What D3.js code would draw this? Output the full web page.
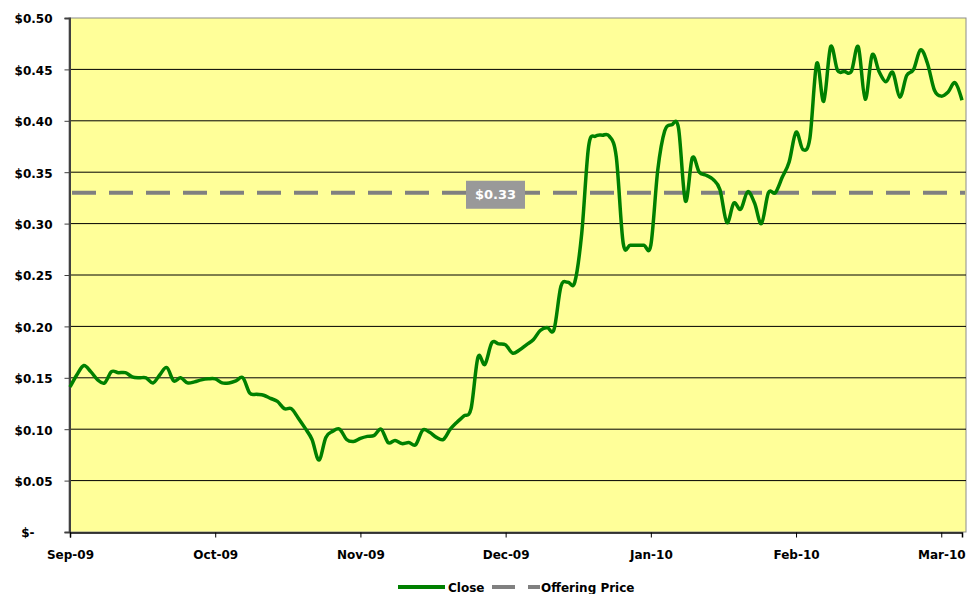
<!DOCTYPE html>
<html>
<head>
<meta charset="utf-8">
<script src="https://cdn.jsdelivr.net/npm/d3@7"></script>
<style>
  body { margin: 0; background: #fff; }
  text { font-family: "DejaVu Sans", Verdana, sans-serif; font-weight: bold; font-size: 12px; fill: #000; }
</style>
</head>
<body>
<figure id="chart" style="margin:0"></figure>
<script>
// daily close (one value per trading day)
const closeValues = [
  0.141, 0.153, 0.162, 0.156, 0.148, 0.145, 0.156, 0.155, 0.155, 0.151,
  0.150, 0.150, 0.145, 0.153, 0.160, 0.147, 0.150, 0.145, 0.146, 0.148,
  0.149, 0.149, 0.145, 0.145, 0.147, 0.150, 0.135, 0.134, 0.133, 0.130,
  0.127, 0.120, 0.120, 0.111, 0.101, 0.090, 0.070, 0.092, 0.098, 0.100,
  0.090, 0.088, 0.091, 0.093, 0.094, 0.100, 0.087, 0.089, 0.086, 0.087,
  0.085, 0.099, 0.097, 0.092, 0.090, 0.100, 0.107, 0.113, 0.120, 0.170,
  0.163, 0.184, 0.183, 0.182, 0.174, 0.177, 0.182, 0.187, 0.196, 0.199,
  0.197, 0.239, 0.243, 0.243, 0.290, 0.375, 0.385, 0.386, 0.385, 0.365,
  0.281, 0.279, 0.279, 0.279, 0.279, 0.352, 0.390, 0.396, 0.393, 0.322,
  0.364, 0.350, 0.347, 0.343, 0.333, 0.301, 0.320, 0.314, 0.331, 0.320,
  0.300, 0.330, 0.330, 0.345, 0.360, 0.389, 0.372, 0.383, 0.456, 0.419,
  0.472, 0.449, 0.448, 0.448, 0.472, 0.421, 0.464, 0.448, 0.438, 0.447,
  0.423, 0.444, 0.450, 0.469, 0.456, 0.430, 0.424, 0.428, 0.437, 0.420
];
const tickLabels = ["Sep-09", "Oct-09", "Nov-09", "Dec-09", "Jan-10", "Feb-10", "Mar-10"];
const tickIndex = [0, 21, 42, 63, 84, 105, 126];
const yTicks = [0, 0.05, 0.10, 0.15, 0.20, 0.25, 0.30, 0.35, 0.40, 0.45, 0.50];
const offeringPrice = 0.33;
const seriesNames = ["Close", "Offering Price"];

const width = 969, height = 594;
const plot = { left: 69, right: 966, top: 18, bottom: 532 };

const svg = d3.select("#chart").append("svg")
  .attr("width", width)
  .attr("height", height);

const x = d3.scaleLinear()
  .domain([0, closeValues.length - 1])
  .range([70, 962]);

const y = d3.scaleLinear()
  .domain([0, 0.5])
  .range([plot.bottom, plot.top]);

// plot area
svg.append("rect")
  .attr("x", plot.left).attr("y", plot.top)
  .attr("width", plot.right - plot.left).attr("height", plot.bottom - plot.top)
  .attr("fill", "#ffff99")
  .attr("stroke", "#8c8c8c")
  .attr("stroke-width", 1);

// gridlines
svg.append("g")
  .selectAll("line")
  .data(yTicks.filter(d => d > 0 && d < 0.5))
  .enter()
  .append("line")
  .attr("x1", plot.left).attr("x2", plot.right)
  .attr("y1", d => y(d)).attr("y2", d => y(d))
  .attr("stroke", "#000")
  .attr("stroke-width", 1);

// y axis
const yAxis = svg.append("g")
  .attr("transform", "translate(" + (plot.left + 0.5) + ",0)")
  .call(d3.axisLeft(y).tickValues(yTicks).tickSize(5).tickPadding(12)
    .tickFormat(d => d === 0 ? "$-" : "$" + d3.format(".2f")(d)));
yAxis.select(".domain").attr("stroke", "#404040").attr("stroke-width", 2);
yAxis.selectAll(".tick line").attr("stroke", "#404040");
yAxis.selectAll(".tick text")
  .attr("dy", "0.4em")
  .attr("x", d => d === 0 ? -35 : -17);

// x axis
const xAxis = svg.append("g")
  .attr("transform", "translate(0," + (plot.bottom + 0.5) + ")")
  .call(d3.axisBottom(x).tickValues(tickIndex).tickSize(5).tickPadding(10)
    .tickFormat((d, i) => tickLabels[i]));
xAxis.select(".domain").attr("stroke", "#000").attr("stroke-width", 1.5);
xAxis.selectAll(".tick line").attr("stroke", "#000");
xAxis.selectAll(".tick text").attr("dy", "0.95em");

// offering price
svg.append("line")
  .attr("x1", 72).attr("x2", plot.right - 1)
  .attr("y1", y(offeringPrice)).attr("y2", y(offeringPrice))
  .attr("stroke", "#808080")
  .attr("stroke-width", 4)
  .attr("stroke-dasharray", "24,13");

// close line
const line = d3.line()
  .x((d, i) => x(i))
  .y(d => y(d))
  .curve(d3.curveCatmullRom.alpha(0));

svg.append("path")
  .datum(closeValues)
  .attr("d", line)
  .attr("fill", "none")
  .attr("stroke", "#008000")
  .attr("stroke-width", 3.5)
  .attr("stroke-linejoin", "round");

// price label
svg.append("rect")
  .attr("x", 466).attr("y", y(offeringPrice) - 12)
  .attr("width", 59).attr("height", 28)
  .attr("fill", "#999999");
svg.append("text")
  .attr("x", 495.5).attr("y", y(offeringPrice) + 2)
  .attr("dy", "0.35em")
  .attr("text-anchor", "middle")
  .style("fill", "#fff")
  .style("font-size", "13px")
  .text("$" + offeringPrice.toFixed(2));

// legend
const legend = svg.append("g");
legend.append("line")
  .attr("x1", 398).attr("x2", 445)
  .attr("y1", 587).attr("y2", 587)
  .attr("stroke", "#008000").attr("stroke-width", 4);
legend.append("text")
  .attr("x", 448).attr("y", 592)
  .text(seriesNames[0]);
legend.append("line")
  .attr("x1", 492).attr("x2", 540)
  .attr("y1", 587).attr("y2", 587)
  .attr("stroke", "#808080").attr("stroke-width", 4)
  .attr("stroke-dasharray", "23,13");
legend.append("text")
  .attr("x", 541).attr("y", 592)
  .text(seriesNames[1]);
</script>
</body>
</html>
